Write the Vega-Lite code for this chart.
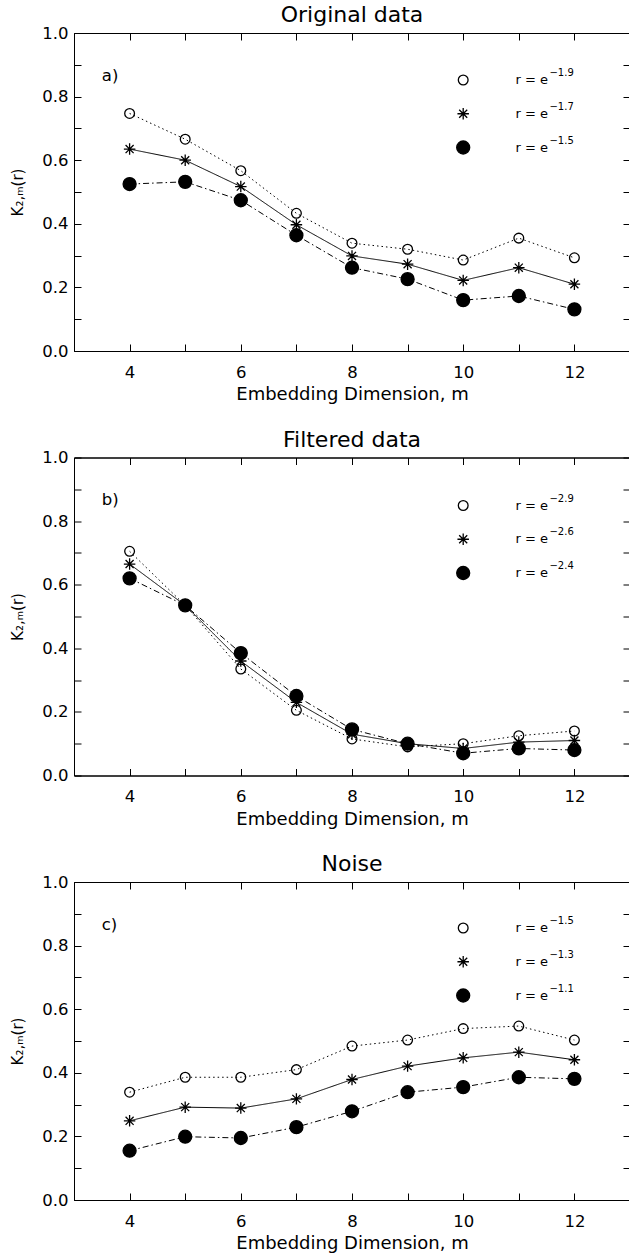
{
  "$schema": "https://vega.github.io/schema/vega-lite/v6.json",
  "padding": {"left": 10, "top": 3, "right": 0, "bottom": 0},
  "spacing": 106.5,
  "bounds": "flush",
  "resolve": {"scale": {"shape": "independent", "fill": "independent", "size": "independent", "strokeDash": "independent"}},
  "config": {
    "view": {"stroke": "black", "strokeWidth": 1},
    "font": "DejaVu Sans",
    "axis": {"grid": false, "domainColor": "black", "tickColor": "black", "labelColor": "black", "titleColor": "black", "labelFont": "DejaVu Sans", "titleFont": "DejaVu Sans", "titleFontWeight": "normal", "labelFontSize": 16.5, "titleFontSize": 18, "tickSize": -7, "domainWidth": 1, "tickWidth": 1},
    "title": {"font": "DejaVu Sans", "fontSize": 22, "fontWeight": "normal", "color": "black", "offset": -2}
  },
  "vconcat": [
    {
      "title": "Original data",
      "width": 556, "height": 318,
      "data": {"values": [
        {"m": 4, "K": 0.747, "s": "−1.9"}, {"m": 5, "K": 0.666, "s": "−1.9"}, {"m": 6, "K": 0.567, "s": "−1.9"}, {"m": 7, "K": 0.433, "s": "−1.9"}, {"m": 8, "K": 0.339, "s": "−1.9"}, {"m": 9, "K": 0.320, "s": "−1.9"}, {"m": 10, "K": 0.286, "s": "−1.9"}, {"m": 11, "K": 0.355, "s": "−1.9"}, {"m": 12, "K": 0.293, "s": "−1.9"},
        {"m": 4, "K": 0.635, "s": "−1.7"}, {"m": 5, "K": 0.600, "s": "−1.7"}, {"m": 6, "K": 0.517, "s": "−1.7"}, {"m": 7, "K": 0.397, "s": "−1.7"}, {"m": 8, "K": 0.299, "s": "−1.7"}, {"m": 9, "K": 0.273, "s": "−1.7"}, {"m": 10, "K": 0.222, "s": "−1.7"}, {"m": 11, "K": 0.262, "s": "−1.7"}, {"m": 12, "K": 0.210, "s": "−1.7"},
        {"m": 4, "K": 0.525, "s": "−1.5"}, {"m": 5, "K": 0.532, "s": "−1.5"}, {"m": 6, "K": 0.474, "s": "−1.5"}, {"m": 7, "K": 0.364, "s": "−1.5"}, {"m": 8, "K": 0.262, "s": "−1.5"}, {"m": 9, "K": 0.226, "s": "−1.5"}, {"m": 10, "K": 0.160, "s": "−1.5"}, {"m": 11, "K": 0.173, "s": "−1.5"}, {"m": 12, "K": 0.131, "s": "−1.5"}
      ]},
      "layer": [
        {
          "mark": {"type": "line", "color": "black", "strokeWidth": 1},
          "encoding": {
            "x": {"field": "m", "type": "quantitative", "scale": {"domain": [3, 13], "nice": false, "zero": false}, "axis": {"orient": "bottom", "values": [4, 5, 6, 7, 8, 9, 10, 11, 12], "labelExpr": "datum.value % 2 == 0 ? datum.label : ''", "labelPadding": 20, "title": "Embedding Dimension, m", "titlePadding": 5}},
            "y": {"field": "K", "type": "quantitative", "scale": {"domain": [0, 1], "nice": false}, "axis": {"orient": "left", "values": [0, 0.1, 0.2, 0.3, 0.4, 0.5, 0.6, 0.7, 0.8, 0.9, 1.0], "format": ".1f", "labelExpr": "round(datum.value * 10) % 2 == 0 ? datum.label : ''", "labelPadding": 13, "title": "K₂,ₘ(r)", "titleFontSize": 15, "titlePadding": 16}},
            "detail": {"field": "s"},
            "strokeDash": {"field": "s", "type": "nominal", "scale": {"domain": ["−1.9", "−1.7", "−1.5"], "range": [[1.5, 3], [1, 0], [6, 3, 1.5, 3]]}, "legend": null}
          }
        },
        {
          "mark": {"type": "point", "filled": true, "stroke": "black", "strokeWidth": 1.3, "opacity": 1},
          "encoding": {
            "x": {"field": "m", "type": "quantitative", "axis": null},
            "y": {"field": "K", "type": "quantitative", "scale": {"domain": [0, 1], "nice": false}, "axis": null},
            "shape": {"field": "s", "type": "nominal", "scale": {"domain": ["−1.9", "−1.7", "−1.5"], "range": ["circle", "M0,-1L0,1M-1,0L1,0M-0.7,-0.7L0.7,0.7M-0.7,0.7L0.7,-0.7", "circle"]}, "legend": null},
            "fill": {"field": "s", "type": "nominal", "scale": {"domain": ["−1.9", "−1.7", "−1.5"], "range": ["transparent", "black", "black"]}, "legend": null},
            "size": {"field": "s", "type": "nominal", "scale": {"domain": ["−1.9", "−1.7", "−1.5"], "range": [95, 169, 100]}, "legend": null}
          }
        },
        {
          "data": {"values": [{"tag": "a)"}]},
          "mark": {"type": "text", "align": "left", "baseline": "middle", "fontSize": 16.5, "font": "DejaVu Sans", "color": "black"},
          "encoding": {
            "x": {"datum": 3.5, "type": "quantitative", "axis": {"orient": "top", "values": [4, 5, 6, 7, 8, 9, 10, 11, 12], "labels": false, "title": null}},
            "y": {"datum": 0.865, "type": "quantitative", "scale": {"domain": [0, 1], "nice": false}, "axis": {"orient": "right", "values": [0, 0.1, 0.2, 0.3, 0.4, 0.5, 0.6, 0.7, 0.8, 0.9, 1.0], "labels": false, "title": null}},
            "text": {"field": "tag"}
          }
        },
        {
          "transform": [{"filter": "datum.m == 4"}],
          "mark": {"type": "point", "filled": true, "stroke": "black", "strokeWidth": 1.3, "opacity": 1},
          "encoding": {
            "x": {"datum": 10, "type": "quantitative", "axis": null},
            "y": {"field": "s", "type": "ordinal", "scale": {"type": "point", "domain": ["−1.9", "−1.7", "−1.5"], "range": [47, 114.5], "padding": 0}, "axis": null},
            "shape": {"field": "s", "type": "nominal", "legend": null},
            "fill": {"field": "s", "type": "nominal", "legend": null},
            "size": {"field": "s", "type": "nominal", "legend": null}
          }
        },
        {
          "transform": [{"filter": "datum.m == 4"}],
          "mark": {"type": "text", "align": "left", "baseline": "middle", "fontSize": 13, "font": "DejaVu Sans", "color": "black"},
          "encoding": {
            "x": {"datum": 10.94, "type": "quantitative", "axis": null},
            "y": {"field": "s", "type": "ordinal", "scale": {"type": "point", "domain": ["−1.9", "−1.7", "−1.5"], "range": [47, 114.5], "padding": 0}, "axis": null},
            "text": {"value": "r = e"}
          }
        },
        {
          "transform": [{"filter": "datum.m == 4"}],
          "mark": {"type": "text", "align": "left", "baseline": "middle", "fontSize": 10, "font": "DejaVu Sans", "color": "black", "dx": 34, "dy": -7},
          "encoding": {
            "x": {"datum": 10.94, "type": "quantitative", "axis": null},
            "y": {"field": "s", "type": "ordinal", "scale": {"type": "point", "domain": ["−1.9", "−1.7", "−1.5"], "range": [47, 114.5], "padding": 0}, "axis": null},
            "text": {"field": "s"}
          }
        }
      ],
      "resolve": {"scale": {"y": "independent"}, "axis": {"x": "independent", "y": "independent"}}
    },
    {
      "title": "Filtered data",
      "width": 556, "height": 318,
      "data": {"values": [
        {"m": 4, "K": 0.705, "s": "−2.9"}, {"m": 5, "K": 0.535, "s": "−2.9"}, {"m": 6, "K": 0.335, "s": "−2.9"}, {"m": 7, "K": 0.205, "s": "−2.9"}, {"m": 8, "K": 0.115, "s": "−2.9"}, {"m": 9, "K": 0.090, "s": "−2.9"}, {"m": 10, "K": 0.100, "s": "−2.9"}, {"m": 11, "K": 0.125, "s": "−2.9"}, {"m": 12, "K": 0.140, "s": "−2.9"},
        {"m": 4, "K": 0.665, "s": "−2.6"}, {"m": 5, "K": 0.535, "s": "−2.6"}, {"m": 6, "K": 0.360, "s": "−2.6"}, {"m": 7, "K": 0.230, "s": "−2.6"}, {"m": 8, "K": 0.130, "s": "−2.6"}, {"m": 9, "K": 0.100, "s": "−2.6"}, {"m": 10, "K": 0.085, "s": "−2.6"}, {"m": 11, "K": 0.105, "s": "−2.6"}, {"m": 12, "K": 0.110, "s": "−2.6"},
        {"m": 4, "K": 0.620, "s": "−2.4"}, {"m": 5, "K": 0.535, "s": "−2.4"}, {"m": 6, "K": 0.385, "s": "−2.4"}, {"m": 7, "K": 0.250, "s": "−2.4"}, {"m": 8, "K": 0.145, "s": "−2.4"}, {"m": 9, "K": 0.100, "s": "−2.4"}, {"m": 10, "K": 0.070, "s": "−2.4"}, {"m": 11, "K": 0.085, "s": "−2.4"}, {"m": 12, "K": 0.080, "s": "−2.4"}
      ]},
      "layer": [
        {
          "mark": {"type": "line", "color": "black", "strokeWidth": 1},
          "encoding": {
            "x": {"field": "m", "type": "quantitative", "scale": {"domain": [3, 13], "nice": false, "zero": false}, "axis": {"orient": "bottom", "values": [4, 5, 6, 7, 8, 9, 10, 11, 12], "labelExpr": "datum.value % 2 == 0 ? datum.label : ''", "labelPadding": 20, "title": "Embedding Dimension, m", "titlePadding": 5}},
            "y": {"field": "K", "type": "quantitative", "scale": {"domain": [0, 1], "nice": false}, "axis": {"orient": "left", "values": [0, 0.1, 0.2, 0.3, 0.4, 0.5, 0.6, 0.7, 0.8, 0.9, 1.0], "format": ".1f", "labelExpr": "round(datum.value * 10) % 2 == 0 ? datum.label : ''", "labelPadding": 13, "title": "K₂,ₘ(r)", "titleFontSize": 15, "titlePadding": 16}},
            "detail": {"field": "s"},
            "strokeDash": {"field": "s", "type": "nominal", "scale": {"domain": ["−2.9", "−2.6", "−2.4"], "range": [[1.5, 3], [1, 0], [6, 3, 1.5, 3]]}, "legend": null}
          }
        },
        {
          "mark": {"type": "point", "filled": true, "stroke": "black", "strokeWidth": 1.3, "opacity": 1},
          "encoding": {
            "x": {"field": "m", "type": "quantitative", "axis": null},
            "y": {"field": "K", "type": "quantitative", "scale": {"domain": [0, 1], "nice": false}, "axis": null},
            "shape": {"field": "s", "type": "nominal", "scale": {"domain": ["−2.9", "−2.6", "−2.4"], "range": ["circle", "M0,-1L0,1M-1,0L1,0M-0.7,-0.7L0.7,0.7M-0.7,0.7L0.7,-0.7", "circle"]}, "legend": null},
            "fill": {"field": "s", "type": "nominal", "scale": {"domain": ["−2.9", "−2.6", "−2.4"], "range": ["transparent", "black", "black"]}, "legend": null},
            "size": {"field": "s", "type": "nominal", "scale": {"domain": ["−2.9", "−2.6", "−2.4"], "range": [95, 169, 100]}, "legend": null}
          }
        },
        {
          "data": {"values": [{"tag": "b)"}]},
          "mark": {"type": "text", "align": "left", "baseline": "middle", "fontSize": 16.5, "font": "DejaVu Sans", "color": "black"},
          "encoding": {
            "x": {"datum": 3.5, "type": "quantitative", "axis": {"orient": "top", "values": [4, 5, 6, 7, 8, 9, 10, 11, 12], "labels": false, "title": null}},
            "y": {"datum": 0.865, "type": "quantitative", "scale": {"domain": [0, 1], "nice": false}, "axis": {"orient": "right", "values": [0, 0.1, 0.2, 0.3, 0.4, 0.5, 0.6, 0.7, 0.8, 0.9, 1.0], "labels": false, "title": null}},
            "text": {"field": "tag"}
          }
        },
        {
          "transform": [{"filter": "datum.m == 4"}],
          "mark": {"type": "point", "filled": true, "stroke": "black", "strokeWidth": 1.3, "opacity": 1},
          "encoding": {
            "x": {"datum": 10, "type": "quantitative", "axis": null},
            "y": {"field": "s", "type": "ordinal", "scale": {"type": "point", "domain": ["−2.9", "−2.6", "−2.4"], "range": [48, 115.5], "padding": 0}, "axis": null},
            "shape": {"field": "s", "type": "nominal", "legend": null},
            "fill": {"field": "s", "type": "nominal", "legend": null},
            "size": {"field": "s", "type": "nominal", "legend": null}
          }
        },
        {
          "transform": [{"filter": "datum.m == 4"}],
          "mark": {"type": "text", "align": "left", "baseline": "middle", "fontSize": 13, "font": "DejaVu Sans", "color": "black"},
          "encoding": {
            "x": {"datum": 10.94, "type": "quantitative", "axis": null},
            "y": {"field": "s", "type": "ordinal", "scale": {"type": "point", "domain": ["−2.9", "−2.6", "−2.4"], "range": [48, 115.5], "padding": 0}, "axis": null},
            "text": {"value": "r = e"}
          }
        },
        {
          "transform": [{"filter": "datum.m == 4"}],
          "mark": {"type": "text", "align": "left", "baseline": "middle", "fontSize": 10, "font": "DejaVu Sans", "color": "black", "dx": 34, "dy": -7},
          "encoding": {
            "x": {"datum": 10.94, "type": "quantitative", "axis": null},
            "y": {"field": "s", "type": "ordinal", "scale": {"type": "point", "domain": ["−2.9", "−2.6", "−2.4"], "range": [48, 115.5], "padding": 0}, "axis": null},
            "text": {"field": "s"}
          }
        }
      ],
      "resolve": {"scale": {"y": "independent"}, "axis": {"x": "independent", "y": "independent"}}
    },
    {
      "title": "Noise",
      "width": 556, "height": 318,
      "data": {"values": [
        {"m": 4, "K": 0.339, "s": "−1.5"}, {"m": 5, "K": 0.386, "s": "−1.5"}, {"m": 6, "K": 0.386, "s": "−1.5"}, {"m": 7, "K": 0.410, "s": "−1.5"}, {"m": 8, "K": 0.484, "s": "−1.5"}, {"m": 9, "K": 0.503, "s": "−1.5"}, {"m": 10, "K": 0.539, "s": "−1.5"}, {"m": 11, "K": 0.547, "s": "−1.5"}, {"m": 12, "K": 0.503, "s": "−1.5"},
        {"m": 4, "K": 0.249, "s": "−1.3"}, {"m": 5, "K": 0.292, "s": "−1.3"}, {"m": 6, "K": 0.289, "s": "−1.3"}, {"m": 7, "K": 0.318, "s": "−1.3"}, {"m": 8, "K": 0.379, "s": "−1.3"}, {"m": 9, "K": 0.421, "s": "−1.3"}, {"m": 10, "K": 0.447, "s": "−1.3"}, {"m": 11, "K": 0.465, "s": "−1.3"}, {"m": 12, "K": 0.441, "s": "−1.3"},
        {"m": 4, "K": 0.155, "s": "−1.1"}, {"m": 5, "K": 0.199, "s": "−1.1"}, {"m": 6, "K": 0.195, "s": "−1.1"}, {"m": 7, "K": 0.229, "s": "−1.1"}, {"m": 8, "K": 0.279, "s": "−1.1"}, {"m": 9, "K": 0.339, "s": "−1.1"}, {"m": 10, "K": 0.355, "s": "−1.1"}, {"m": 11, "K": 0.386, "s": "−1.1"}, {"m": 12, "K": 0.381, "s": "−1.1"}
      ]},
      "layer": [
        {
          "mark": {"type": "line", "color": "black", "strokeWidth": 1},
          "encoding": {
            "x": {"field": "m", "type": "quantitative", "scale": {"domain": [3, 13], "nice": false, "zero": false}, "axis": {"orient": "bottom", "values": [4, 5, 6, 7, 8, 9, 10, 11, 12], "labelExpr": "datum.value % 2 == 0 ? datum.label : ''", "labelPadding": 20, "title": "Embedding Dimension, m", "titlePadding": 5}},
            "y": {"field": "K", "type": "quantitative", "scale": {"domain": [0, 1], "nice": false}, "axis": {"orient": "left", "values": [0, 0.1, 0.2, 0.3, 0.4, 0.5, 0.6, 0.7, 0.8, 0.9, 1.0], "format": ".1f", "labelExpr": "round(datum.value * 10) % 2 == 0 ? datum.label : ''", "labelPadding": 13, "title": "K₂,ₘ(r)", "titleFontSize": 15, "titlePadding": 16}},
            "detail": {"field": "s"},
            "strokeDash": {"field": "s", "type": "nominal", "scale": {"domain": ["−1.5", "−1.3", "−1.1"], "range": [[1.5, 3], [1, 0], [6, 3, 1.5, 3]]}, "legend": null}
          }
        },
        {
          "mark": {"type": "point", "filled": true, "stroke": "black", "strokeWidth": 1.3, "opacity": 1},
          "encoding": {
            "x": {"field": "m", "type": "quantitative", "axis": null},
            "y": {"field": "K", "type": "quantitative", "scale": {"domain": [0, 1], "nice": false}, "axis": null},
            "shape": {"field": "s", "type": "nominal", "scale": {"domain": ["−1.5", "−1.3", "−1.1"], "range": ["circle", "M0,-1L0,1M-1,0L1,0M-0.7,-0.7L0.7,0.7M-0.7,0.7L0.7,-0.7", "circle"]}, "legend": null},
            "fill": {"field": "s", "type": "nominal", "scale": {"domain": ["−1.5", "−1.3", "−1.1"], "range": ["transparent", "black", "black"]}, "legend": null},
            "size": {"field": "s", "type": "nominal", "scale": {"domain": ["−1.5", "−1.3", "−1.1"], "range": [95, 169, 100]}, "legend": null}
          }
        },
        {
          "data": {"values": [{"tag": "c)"}]},
          "mark": {"type": "text", "align": "left", "baseline": "middle", "fontSize": 16.5, "font": "DejaVu Sans", "color": "black"},
          "encoding": {
            "x": {"datum": 3.5, "type": "quantitative", "axis": {"orient": "top", "values": [4, 5, 6, 7, 8, 9, 10, 11, 12], "labels": false, "title": null}},
            "y": {"datum": 0.865, "type": "quantitative", "scale": {"domain": [0, 1], "nice": false}, "axis": {"orient": "right", "values": [0, 0.1, 0.2, 0.3, 0.4, 0.5, 0.6, 0.7, 0.8, 0.9, 1.0], "labels": false, "title": null}},
            "text": {"field": "tag"}
          }
        },
        {
          "transform": [{"filter": "datum.m == 4"}],
          "mark": {"type": "point", "filled": true, "stroke": "black", "strokeWidth": 1.3, "opacity": 1},
          "encoding": {
            "x": {"datum": 10, "type": "quantitative", "axis": null},
            "y": {"field": "s", "type": "ordinal", "scale": {"type": "point", "domain": ["−1.5", "−1.3", "−1.1"], "range": [46, 113.5], "padding": 0}, "axis": null},
            "shape": {"field": "s", "type": "nominal", "legend": null},
            "fill": {"field": "s", "type": "nominal", "legend": null},
            "size": {"field": "s", "type": "nominal", "legend": null}
          }
        },
        {
          "transform": [{"filter": "datum.m == 4"}],
          "mark": {"type": "text", "align": "left", "baseline": "middle", "fontSize": 13, "font": "DejaVu Sans", "color": "black"},
          "encoding": {
            "x": {"datum": 10.94, "type": "quantitative", "axis": null},
            "y": {"field": "s", "type": "ordinal", "scale": {"type": "point", "domain": ["−1.5", "−1.3", "−1.1"], "range": [46, 113.5], "padding": 0}, "axis": null},
            "text": {"value": "r = e"}
          }
        },
        {
          "transform": [{"filter": "datum.m == 4"}],
          "mark": {"type": "text", "align": "left", "baseline": "middle", "fontSize": 10, "font": "DejaVu Sans", "color": "black", "dx": 34, "dy": -7},
          "encoding": {
            "x": {"datum": 10.94, "type": "quantitative", "axis": null},
            "y": {"field": "s", "type": "ordinal", "scale": {"type": "point", "domain": ["−1.5", "−1.3", "−1.1"], "range": [46, 113.5], "padding": 0}, "axis": null},
            "text": {"field": "s"}
          }
        }
      ],
      "resolve": {"scale": {"y": "independent"}, "axis": {"x": "independent", "y": "independent"}}
    }
  ]
}
